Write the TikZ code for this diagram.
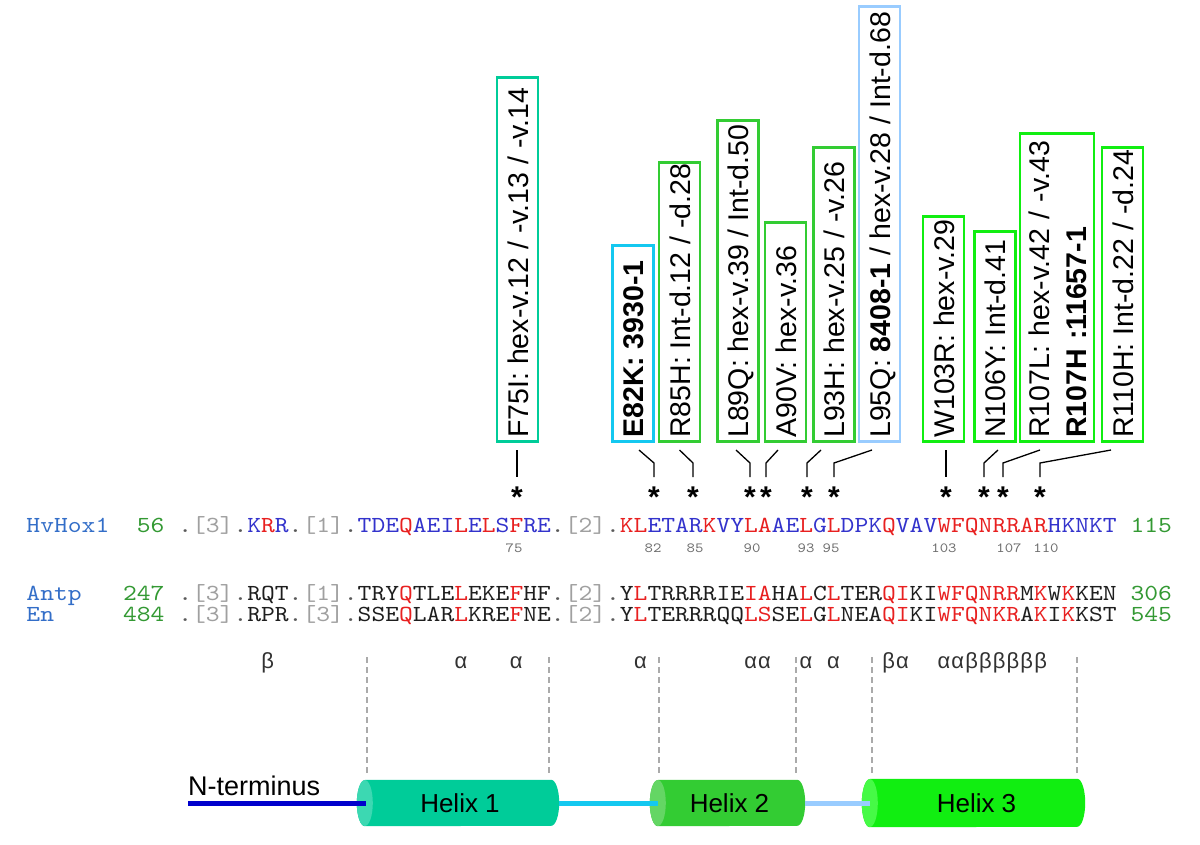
\documentclass[tikz,border=0pt]{standalone}
\usepackage{fontspec}
\setmainfont{Liberation Sans}
\newfontfamily\seqfont{lmmono10-regular.otf}[FakeStretch=1.1429]
\usetikzlibrary{calc}
\pgfdeclarelayer{bg}
\pgfsetlayers{bg,main}
\definecolor{seqblue}{RGB}{51,51,204}
\definecolor{seqred}{RGB}{232,32,32}
\definecolor{namblue}{RGB}{51,110,200}
\definecolor{numgreen}{RGB}{51,153,51}
\definecolor{brgray}{RGB}{160,160,160}
\definecolor{dotgray}{RGB}{90,90,90}
\definecolor{resblack}{RGB}{30,30,30}
\definecolor{labgray}{RGB}{110,110,110}
\definecolor{greekgray}{RGB}{50,50,50}
\definecolor{dashgray}{RGB}{170,170,170}
\definecolor{hA}{RGB}{0,204,153}
\definecolor{hAf}{RGB}{60,216,178}
\definecolor{hB}{RGB}{51,204,51}
\definecolor{hBf}{RGB}{100,214,100}
\definecolor{hC}{RGB}{17,238,17}
\definecolor{hCf}{RGB}{70,250,70}
\definecolor{loopA}{RGB}{20,200,240}
\definecolor{loopB}{RGB}{153,204,255}
\definecolor{ncol}{RGB}{0,0,204}
\newcommand\cR[1]{\textcolor{seqred}{#1}}
\newcommand\cB[1]{\textcolor{seqblue}{#1}}
\newcommand\cK[1]{\textcolor{resblack}{#1}}
\newcommand\cG[1]{\textcolor{brgray}{#1}}
\newcommand\cD{\textcolor{dotgray}{.}}
\newcommand\mbx[2]{\makebox[#1pt][l]{#2}}
\tikzset{
  mutbox/.style={draw, line width=2.6pt, fill=white, rotate=90, anchor=west, inner xsep=4pt, font=\fontsize{28.5}{37}\selectfont, text=black},
  mutone/.style={mutbox, inner ysep=6pt, text height=25pt, text depth=4pt},
  conn/.style={draw=black, line width=1.3pt},
  astk/.style={anchor=north, inner sep=0pt, font=\bfseries\fontsize{30}{30}\selectfont},
  seq/.style={anchor=base west, inner sep=0pt, font=\seqfont\fontsize{23}{23}\selectfont},
  resnum/.style={anchor=base, inner sep=0pt, text=labgray, font=\seqfont\fontsize{14}{14}\selectfont},
  greek/.style={anchor=base, inner sep=0pt, text=greekgray, font=\fontsize{22}{22}\selectfont},
  hnode/.style={inner sep=0pt, font=\fontsize{26}{26}\selectfont},
  dashln/.style={draw=dashgray, line width=1.3pt, dash pattern=on 6pt off 4pt},
}
\begin{document}
\begin{tikzpicture}[x=1pt,y=1pt]
\begin{pgfonlayer}{bg}
\fill[white] (0,0) rectangle (1200,-845);
\end{pgfonlayer}
\useasboundingbox (0,0) rectangle (1200,-845);

% mutation boxes
\node[mutone,draw=hA] (bF) at (517.5,-443) {\mbx{356}{F75I: hex-v.12 / -v.13 / -v.14}};
\node[mutone,draw=loopA] (bE) at (633,-443) {\mbx{188}{\bfseries E82K: 3930-1}};
\node[mutone,draw=hB] (bR85) at (679.5,-443) {\mbx{271}{R85H: Int-d.12 / -d.28}};
\node[mutone,draw=hB] (bL89) at (738,-443) {\mbx{313}{L89Q: hex-v.39 / Int-d.50}};
\node[mutone,draw=hB] (bA90) at (785.5,-443) {\mbx{211}{A90V: hex-v.36}};
\node[mutone,draw=hB] (bL93) at (834,-443) {\mbx{286}{L93H: hex-v.25 / -v.26}};
\node[mutone,draw=loopB] (bL95) at (879.5,-443) {\mbx{427}{L95Q: \textbf{8408-1} / hex-v.28 / Int-d.68}};
\node[mutone,draw=hC] (bW) at (943.5,-443) {\mbx{217}{W103R: hex-v.29}};
\node[mutone,draw=hC] (bN) at (995,-443) {\mbx{202}{N106Y: Int-d.41}};
\node[mutbox,draw=hC,inner ysep=4pt,text width=300pt,align=left] (bR107) at (1057,-443) {\rule{0pt}{25pt}R107L: hex-v.42 / -v.43\\ \textbf{R107H :11657-1}\rule[-4pt]{0pt}{4pt}};
\node[mutone,draw=hC] (bR110) at (1122.5,-443) {\mbx{286}{R110H: Int-d.22 / -d.24}};

% asterisks
\node[astk] (sF) at (517,-487) {*};
\node[astk] (sE) at (654,-487) {*};
\node[astk] (sR85) at (693,-487) {*};
\node[astk] (sL89) at (750,-487) {*};
\node[astk] (sA90) at (766,-487) {*};
\node[astk] (sL93) at (807,-487) {*};
\node[astk] (sL95) at (834,-487) {*};
\node[astk] (sW) at (946,-487) {*};
\node[astk] (sN) at (984,-487) {*};
\node[astk] (sR107) at (1003,-487) {*};
\node[astk] (sR110) at (1040,-487) {*};

% connectors box -> asterisk
\draw[conn] ($(bF.west)+(-0.5,-7)$) -- ($(sF.north)+(0,10)$);
\draw[conn] ($(bE.west)+(6,-7)$) -- ($(sE.north)+(0,24)$) -- ($(sE.north)+(0,10)$);
\draw[conn] ($(bR85.west)+(0,-7)$) -- ($(sR85.north)+(0,24)$) -- ($(sR85.north)+(0,10)$);
\draw[conn] ($(bL89.west)+(-2,-7)$) -- ($(sL89.north)+(0,24)$) -- ($(sL89.north)+(0,10)$);
\draw[conn] ($(bA90.west)+(-7.5,-7)$) -- ($(sA90.north)+(0,24)$) -- ($(sA90.north)+(0,10)$);
\draw[conn] ($(bL93.west)+(-13,-7)$) -- ($(sL93.north)+(0,24)$) -- ($(sL93.north)+(0,10)$);
\draw[conn] ($(bL95.west)+(-7.5,-7)$) -- ($(sL95.north)+(0,24)$) -- ($(sL95.north)+(0,10)$);
\draw[conn] ($(bW.west)+(2.5,-7)$) -- ($(sW.north)+(0,10)$);
\draw[conn] ($(bN.west)+(3,-7)$) -- ($(sN.north)+(0,24)$) -- ($(sN.north)+(0,10)$);
\draw[conn] ($(bR107.west)+(-17,-7)$) -- ($(sR107.north)+(0,24)$) -- ($(sR107.north)+(0,10)$);
\draw[conn] ($(bR110.west)+(-11.5,-7)$) -- ($(sR110.north)+(0,24)$) -- ($(sR110.north)+(0,10)$);

% sequence rows
\node[seq] (hvname) at (26.3,-532) {\textcolor{namblue}{HvHox1}};
\node[seq] (hvnum) at (136.7,-532) {\textcolor{numgreen}{56}};
\node[seq] (hvseq) at (178.1,-532) {\cD\cG{[3]}\cD\cB{K}\cR{R}\cB{R}\cD\cG{[1]}\cD\cB{TDE}\cR{Q}\cB{AEI}\cR{L}\cB{E}\cR{L}\cB{S}\cR{F}\cB{RE}\cD\cG{[2]}\cD\cR{KL}\cB{ETAR}\cR{K}\cB{VY}\cR{LA}\cB{AE}\cR{L}\cB{G}\cR{L}\cB{DPK}\cR{Q}\cB{VAV}\cR{WFQNRRAR}\cB{HKNKT}};
\node[seq] (hvend) at (1130.3,-532) {\textcolor{numgreen}{115}};

\node[resnum] (n75) at (514,-552) {75};
\node[resnum] (n82) at (653,-552) {82};
\node[resnum] (n85) at (695,-552) {85};
\node[resnum] (n90) at (752,-552) {90};
\node[resnum] (n93) at (806,-552) {93};
\node[resnum] (n95) at (831,-552) {95};
\node[resnum] (n103) at (944,-552) {103};
\node[resnum] (n107) at (1009,-552) {107};
\node[resnum] (n110) at (1046,-552) {110};

\node[seq] (apname) at (26.3,-600) {\textcolor{namblue}{Antp}};
\node[seq] (apnum) at (122.9,-600) {\textcolor{numgreen}{247}};
\node[seq] (apseq) at (178.1,-600) {\cD\cG{[3]}\cD\cK{RQT}\cD\cG{[1]}\cD\cK{TRY}\cR{Q}\cK{TLE}\cR{L}\cK{EKE}\cR{F}\cK{HF}\cD\cG{[2]}\cD\cK{Y}\cR{L}\cK{TRRRRIE}\cR{IA}\cK{HA}\cR{L}\cK{C}\cR{L}\cK{TER}\cR{QI}\cK{KI}\cR{WFQNRR}\cK{M}\cR{K}\cK{W}\cR{K}\cK{KEN}};
\node[seq] (apend) at (1130.3,-600) {\textcolor{numgreen}{306}};

\node[seq] (enname) at (26.3,-621) {\textcolor{namblue}{En}};
\node[seq] (ennum) at (122.9,-621) {\textcolor{numgreen}{484}};
\node[seq] (enseq) at (178.1,-621) {\cD\cG{[3]}\cD\cK{RPR}\cD\cG{[3]}\cD\cK{SSE}\cR{Q}\cK{LAR}\cR{L}\cK{KRE}\cR{F}\cK{NE}\cD\cG{[2]}\cD\cK{Y}\cR{L}\cK{TERRRQQ}\cR{LS}\cK{SE}\cR{L}\cK{G}\cR{L}\cK{NEA}\cR{QI}\cK{KI}\cR{WFQNKR}\cK{A}\cR{K}\cK{I}\cR{K}\cK{KST}};
\node[seq] (enend) at (1130.3,-621) {\textcolor{numgreen}{545}};

% secondary structure letters
\foreach \i/\l in {6/β,20/α,24/α,33/α,41/α,42/α,45/α,47/α,51/β,52/α,55/α,56/α,57/β,58/β,59/β,60/β,61/β,62/β}
  \node[greek] (g\i) at ({185+13.8*\i},-668) {\l};

% dashed guides
\foreach \k/\x in {1/367,2/549,3/659,4/796,5/872,6/1077}{
  \coordinate (dt\k) at (\x,-657);
  \coordinate (db\k) at (\x,-773);
  \draw[dashln] (dt\k) -- (db\k);
}

% helices
\node[hnode] (H1) at (458,-803) [minimum width=202pt, minimum height=46pt] {\hspace{4pt}Helix 1};
\node[hnode] (H2) at (727.5,-803) [minimum width=155pt, minimum height=46pt] {\hspace{4pt}Helix 2};
\node[hnode] (H3) at (973.5,-803) [minimum width=223pt, minimum height=48pt] {\hspace{6pt}Helix 3};
\begin{pgfonlayer}{bg}
\fill[hA] ($(H1.north west)+(8,0)$) -- ($(H1.north east)+(-8,0)$) arc[start angle=90,end angle=-90,x radius=8,y radius=23] -- ($(H1.south west)+(8,0)$) arc[start angle=270,end angle=90,x radius=8,y radius=23] -- cycle;
\fill[hAf] ($(H1.west)+(8,0)$) ellipse [x radius=8, y radius=23];
\fill[hB] ($(H2.north west)+(8,0)$) -- ($(H2.north east)+(-8,0)$) arc[start angle=90,end angle=-90,x radius=8,y radius=23] -- ($(H2.south west)+(8,0)$) arc[start angle=270,end angle=90,x radius=8,y radius=23] -- cycle;
\fill[hBf] ($(H2.west)+(8,0)$) ellipse [x radius=8, y radius=23];
\fill[hC] ($(H3.north west)+(8,0)$) -- ($(H3.north east)+(-8,0)$) arc[start angle=90,end angle=-90,x radius=8,y radius=24] -- ($(H3.south west)+(8,0)$) arc[start angle=270,end angle=90,x radius=8,y radius=24] -- cycle;
\fill[hCf] ($(H3.west)+(8,0)$) ellipse [x radius=8, y radius=24];
\end{pgfonlayer}

% N-terminus and loops
\node[anchor=base west, inner sep=0pt, font=\fontsize{27}{27}\selectfont] (nterm) at (188,-795) {N-terminus};
\coordinate (nstart) at (188,-803);
\draw[ncol, line width=5pt] (nstart) -- ($(H1.west)+(9,0)$);
\draw[loopA, line width=5pt] (H1.east) -- ($(H2.west)+(8,0)$);
\draw[loopB, line width=5pt] (H2.east) -- ($(H3.west)+(8,0)$);
\end{tikzpicture}
\end{document}
